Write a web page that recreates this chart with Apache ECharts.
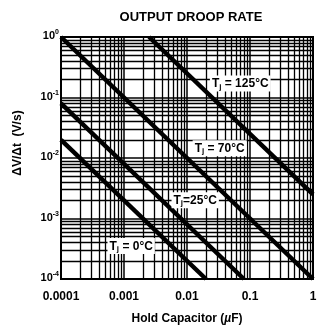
<!DOCTYPE html>
<html>
<head>
<meta charset="utf-8">
<script src="https://cdn.jsdelivr.net/npm/echarts@6/dist/echarts.min.js"></script>
<style>
  html, body { margin: 0; padding: 0; background: #fff; }
  #droop { width: 321px; height: 330px; }
</style>
</head>
<body>
<div id="droop"></div>
<script>
var droop = echarts.init(document.getElementById('droop'));

// tick labels
var xTickLabels = ['0.0001', '0.001', '0.01', '0.1', '1'];
var yTickExp = ['0', '-1', '-2', '-3', '-4'];

// one straight line per junction temperature, read at its two ends
var temps = ['125', '70', '25', '0'];
var capStart = [0.0025, 0.0001, 0.0001, 0.0001];
var rateStart = [1, 1, 0.08, 0.02];
var capEnd = [1, 1, 0.08, 0.02];
var rateEnd = [0.0025, 0.0001, 0.0001, 0.0001];

// where each temperature tag sits (data coords)
var tagCap = [0.07, 0.033, 0.0135, 0.0013];
var tagRate = [0.17, 0.0145, 0.002, 0.00035];
var tagText = [
  '{t|T}{j|j}{t| = 125°C}',
  '{t|T}{j|j}{t| = 70°C}',
  '{t|T}{j|j}{t|=25°C}',
  '{t|T}{j|j}{t| = 0°C}'
];

var font = 'Liberation Sans, Arial, sans-serif';

// log paper grid: 2..9 in every decade
var paper = [];
for (var e = -4; e < 0; e++) {
  for (var m = 2; m <= 9; m++) {
    var v = m * Math.pow(10, e);
    paper.push({ coords: [[v, 0.0001], [v, 1]] });
    paper.push({ coords: [[0.0001, v], [1, v]] });
  }
}

var series = [{
  type: 'lines',
  coordinateSystem: 'cartesian2d',
  silent: true,
  z: 1,
  lineStyle: { color: '#000', width: 1.3, opacity: 1 },
  data: paper
}];

for (var i = 0; i < temps.length; i++) {
  series.push({
    name: temps[i],
    type: 'line',
    symbol: 'none',
    z: 3,
    lineStyle: { color: '#000', width: 4.5 },
    data: [[capStart[i], rateStart[i]], [capEnd[i], rateEnd[i]]]
  });
}

series.push({
  type: 'scatter',
  zlevel: 1,
  z: 5,
  symbolSize: 1,
  silent: true,
  itemStyle: { color: 'rgba(0,0,0,0)' },
  label: {
    show: true,
    position: 'inside',
    backgroundColor: '#ffffff',
    opacity: 1,
    padding: [2, 2, 1, 2],
    formatter: function (p) { return tagText[p.dataIndex]; },
    rich: {
      t: { fontFamily: font, fontWeight: 'bold', fontSize: 12, color: '#000' },
      j: { fontFamily: font, fontWeight: 'bold', fontSize: 8, color: '#000', padding: [5, 0, 0, 0] }
    }
  },
  data: tagCap.map(function (c, k) { return [c, tagRate[k]]; })
});

option = {
  animation: false,
  title: {
    text: 'OUTPUT DROOP RATE',
    left: 186,
    top: 6,
    textAlign: 'center',
    textStyle: { fontFamily: font, fontWeight: 'bold', fontSize: 13, color: '#000' }
  },
  grid: {
    left: 61,
    top: 37,
    right: 8,
    bottom: 42,
    show: true,
    borderColor: '#000',
    borderWidth: 2,
    backgroundColor: 'transparent'
  },
  xAxis: {
    type: 'log',
    logBase: 10,
    min: 0.0001,
    max: 1,
    name: 'Hold Capacitor ({i|µ}F)',
    nameLocation: 'middle',
    nameGap: 34,
    nameTextStyle: {
      fontFamily: font, fontWeight: 'bold', fontSize: 12, color: '#000',
      rich: { i: { fontFamily: font, fontWeight: 'bold', fontStyle: 'italic', fontSize: 12, color: '#000' } }
    },
    axisLine: { show: true, lineStyle: { color: '#000', width: 2 } },
    axisTick: { show: false },
    splitLine: { show: true, lineStyle: { color: '#000', width: 1.5 } },
    axisLabel: {
      margin: 12,
      fontFamily: font,
      fontWeight: 'bold',
      fontSize: 12,
      color: '#000',
      formatter: function (v) { return xTickLabels[Math.round(Math.log10(v)) + 4]; }
    }
  },
  yAxis: {
    type: 'log',
    logBase: 10,
    min: 0.0001,
    max: 1,
    name: 'ΔV/Δt  (V/s)',
    nameLocation: 'middle',
    nameGap: 37,
    nameTextStyle: { fontFamily: font, fontWeight: 'bold', fontSize: 12, color: '#000', padding: [0, 0, 0, 30] },
    axisLine: { show: true, lineStyle: { color: '#000', width: 2 } },
    axisTick: { show: false },
    splitLine: { show: true, lineStyle: { color: '#000', width: 1.5 } },
    axisLabel: {
      margin: 2,
      verticalAlign: 'middle',
      padding: [0, 0, 2, 0],
      formatter: function (v) { return '{b|10}{s|' + yTickExp[-Math.round(Math.log10(v))] + '}'; },
      rich: {
        b: { fontFamily: font, fontWeight: 'bold', fontSize: 11, color: '#000' },
        s: { fontFamily: font, fontWeight: 'bold', fontSize: 7, color: '#000', padding: [0, 0, 7, 0] }
      }
    }
  },
  series: series
};

if (option && typeof option === 'object') {
  droop.setOption(option, true);
}
</script>
</body>
</html>
